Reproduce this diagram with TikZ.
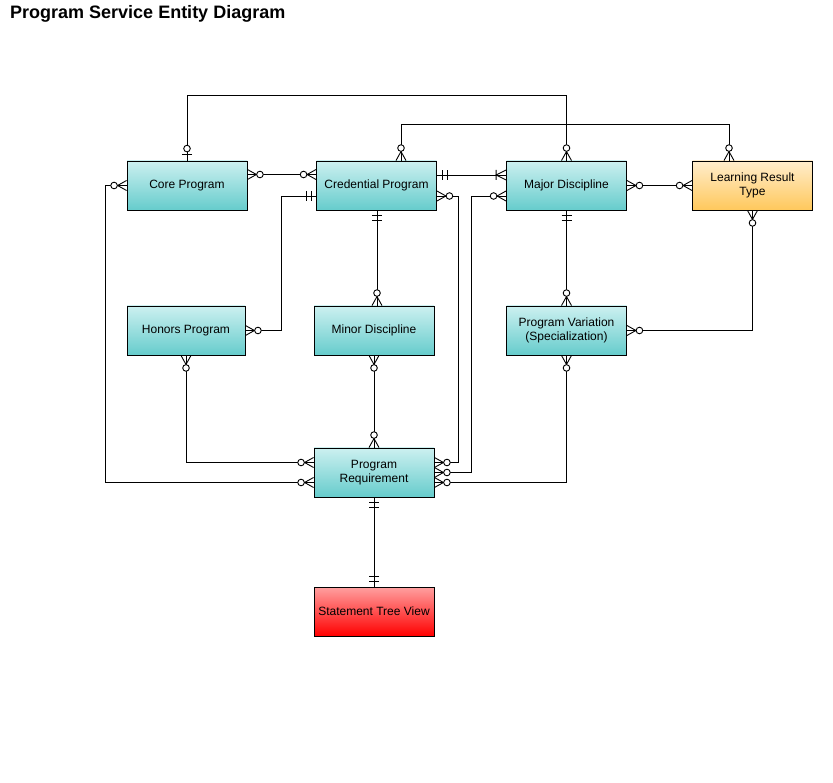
\documentclass[tikz,border=0pt]{standalone}
\usepackage{fontspec}
\setmainfont{Liberation Sans}
\definecolor{tealtop}{HTML}{CCF0F0}
\definecolor{tealbot}{HTML}{66CCCC}
\definecolor{orgtop}{HTML}{FFEDCC}
\definecolor{orgbot}{HTML}{FFC85C}
\definecolor{redtop}{HTML}{FFA0A0}
\definecolor{redbot}{HTML}{FF0000}
\tikzset{
  ent/.style={draw=black, line width=0.9pt, minimum width=120pt, minimum height=49pt,
    inner sep=2pt, align=center, font=\fontsize{12}{14}\selectfont,
    top color=tealtop, bottom color=tealbot},
  orgent/.style={ent, top color=orgtop, bottom color=orgbot},
  redent/.style={ent, top color=redtop, bottom color=redbot},
  conn/.style={draw=black, line width=0.9pt},
  zmany/.pic={\draw[conn] (0,5)--(9,0)--(0,-5); \draw[conn, fill=white] (12.5,0) circle[radius=3.3pt];},
  zone/.pic={\draw[conn] (6,5)--(6,-5); \draw[conn, fill=white] (12,0) circle[radius=3.3pt];},
  oone/.pic={\draw[conn] (5,5)--(5,-5) (10,5)--(10,-5);},
  omany/.pic={\draw[conn] (0,5)--(10,0)--(0,-5) (10,5)--(10,-5);},
}
\begin{document}
\begin{tikzpicture}[x=1pt, y=-1pt]
\path[use as bounding box, fill=white] (0,0) rectangle (833,783);
\node[anchor=west, inner sep=0, font=\bfseries\fontsize{18}{20}\selectfont] (title) at (10,14) {Program Service Entity Diagram};

% entities
\node[ent] (core) at (187,185.5) {Core Program};
\node[ent] (cred) at (376.5,185.5) {Credential Program};
\node[ent] (major) at (566.5,185.5) {Major Discipline};
\node[orgent] (lrt) at (752.5,185.5) {Learning Result\\Type};
\node[ent, minimum width=118pt] (honors) at (186,330.5) {Honors Program};
\node[ent] (minor) at (374,330.5) {Minor Discipline};
\node[ent] (pv) at (566.5,330.5) {Program Variation\\(Specialization)};
\node[ent] (req) at (374,472.5) {Program\\Requirement};
\node[redent] (stv) at (374,611.5) {Statement Tree View};

% helper coordinates
\coordinate (top1) at (0,95);
\coordinate (top2) at (0,124);
\coordinate (v1) at (281,0);
\coordinate (v2) at (458,0);
\coordinate (v3) at (471,0);
\coordinate (v4) at (105,0);
\coordinate (coreE) at ([yshift=11pt]core.east);
\coordinate (credW1) at ([yshift=11pt]cred.west);
\coordinate (credE1) at ([yshift=10.5pt]cred.east);
\coordinate (majW1) at ([yshift=10.5pt]major.west);
\coordinate (credW2) at ([yshift=-10.5pt]cred.west);
\coordinate (credE2) at ([yshift=-10.5pt]cred.east);
\coordinate (majW2) at ([yshift=-10.5pt]major.west);
\coordinate (credN) at ([xshift=24.5pt]cred.north);
\coordinate (lrtN) at ([xshift=-23.5pt]lrt.north);
\coordinate (credS) at ([xshift=0.5pt]cred.south);
\coordinate (minorN) at (credS |- minor.north);
\coordinate (reqW1) at ([yshift=10pt]req.west);
\coordinate (reqW2) at ([yshift=-10pt]req.west);
\coordinate (reqE1) at ([yshift=10pt]req.east);
\coordinate (reqE2) at ([yshift=-10pt]req.east);

% connectors
\draw[conn] (core.north) -- (core.north |- top1) -| (major.north);
\draw[conn] (credN) -- (credN |- top2) -| (lrtN);
\draw[conn] (coreE) -- (credW1);
\draw[conn] (credE1) -- (majW1);
\draw[conn] (major.east) -- (lrt.west);
\draw[conn] (honors.east) -- (honors.east -| v1) -- (v1 |- credW2) -- (credW2);
\draw[conn] (credS) -- (minorN);
\draw[conn] (credE2) -- (credE2 -| v2) -- (v2 |- reqE1) -- (reqE1);
\draw[conn] (majW2) -- (majW2 -| v3) -- (v3 |- req.east) -- (req.east);
\draw[conn] (reqE2) -| (pv.south);
\draw[conn] (major.south) -- (pv.north);
\draw[conn] (lrt.south) |- (pv.east);
\draw[conn] (honors.south) |- (reqW1);
\draw[conn] (minor.south) -- (req.north);
\draw[conn] (core.west) -- (core.west -| v4) -- (v4 |- reqW2) -- (reqW2);
\draw[conn] (req.south) -- (stv.north);

% ends
\pic[rotate=90] at (core.north) {zone};
\pic[rotate=90] at (major.north) {zmany};
\pic[rotate=90] at (credN) {zmany};
\pic[rotate=90] at (lrtN) {zmany};
\pic at (coreE) {zmany};
\pic[rotate=180] at (credW1) {zmany};
\pic at (credE1) {oone};
\pic[rotate=180] at (majW1) {omany};
\pic at (major.east) {zmany};
\pic[rotate=180] at (lrt.west) {zmany};
\pic at (honors.east) {zmany};
\pic[rotate=180] at (credW2) {oone};
\pic[rotate=-90] at (credS) {oone};
\pic[rotate=90] at (minorN) {zmany};
\pic at (credE2) {zmany};
\pic at (reqE1) {zmany};
\pic[rotate=180] at (majW2) {zmany};
\pic at (req.east) {zmany};
\pic at (reqE2) {zmany};
\pic[rotate=-90] at (pv.south) {zmany};
\pic[rotate=-90] at (major.south) {oone};
\pic[rotate=90] at (pv.north) {zmany};
\pic[rotate=-90] at (lrt.south) {zmany};
\pic at (pv.east) {zmany};
\pic[rotate=-90] at (honors.south) {zmany};
\pic[rotate=180] at (reqW1) {zmany};
\pic[rotate=-90] at (minor.south) {zmany};
\pic[rotate=90] at (req.north) {zmany};
\pic[rotate=180] at (core.west) {zmany};
\pic[rotate=180] at (reqW2) {zmany};
\pic[rotate=-90] at (req.south) {oone};
\pic[rotate=90] at (stv.north) {oone};
\end{tikzpicture}
\end{document}
